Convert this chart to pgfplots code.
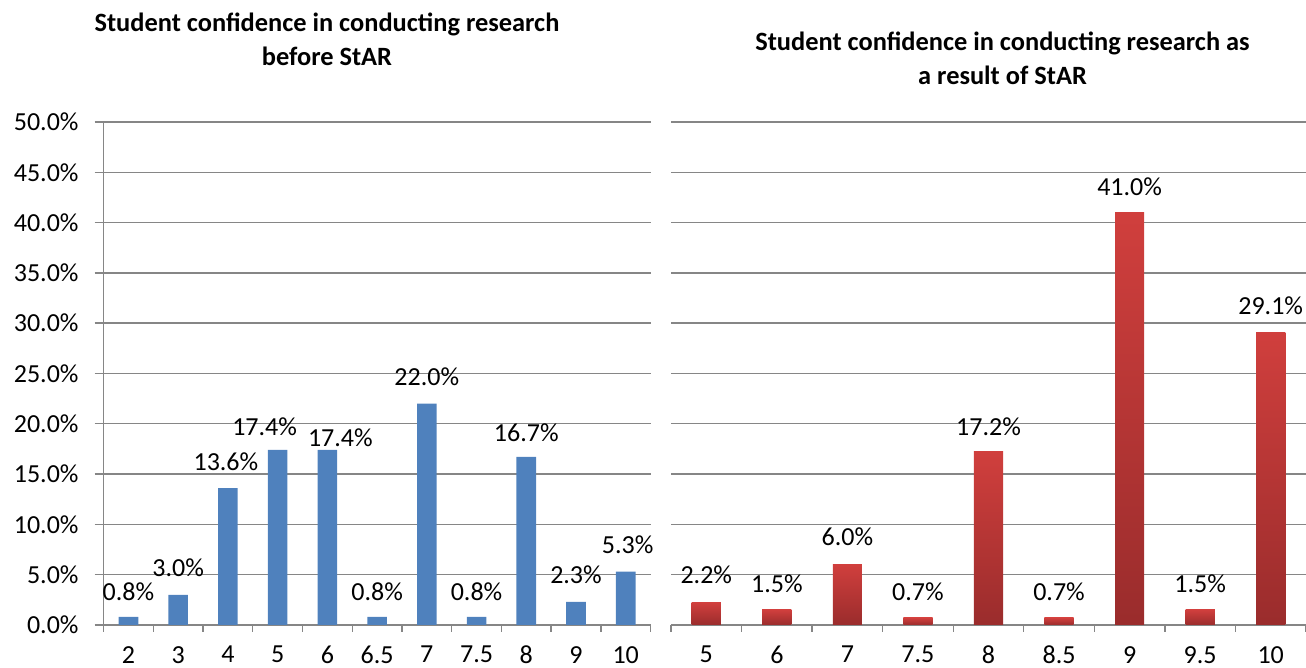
\documentclass[border=0pt]{standalone}
\usepackage{fontspec}
\setmainfont{Carlito}
\usepackage{pgfplots}
\pgfplotsset{compat=1.18}
\usepackage{pgfplotstable}
\definecolor{barblue}{HTML}{4F81BD}
\definecolor{redtop}{HTML}{D03F3D}
\definecolor{redbot}{HTML}{9A2C2C}
\definecolor{gridgray}{HTML}{868686}
\pgfplotsset{/pgf/number format/assume math mode=true}

% x = category index, y = percent, dx/dy = label offsets (pt)
\pgfplotstableread{
x y dx dy
0 0.8 0 12.5
1 3.0 0 13.5
2 13.6 -1 13
3 17.4 -6.5 11.5
4 17.4 6.5 6
5 0.8 0 12.5
6 22.0 0 13.5
7 0.8 0 12.5
8 16.7 0 12
9 2.3 0 13.5
10 5.3 1 13.5
}\before

\pgfplotstableread{
x y dx dy
0 2.2 0 14
1 1.5 0 13
2 6.0 0 14
3 0.7 0 13
4 17.2 0 12.5
5 0.7 0 13
6 41.0 0 13
7 1.5 0 13
8 29.1 0 13.5
}\after

\pgfplotsset{
  starstyle/.style={
    scale only axis, height=251.5pt,
    ymin=0, ymax=50,
    axis x line*=bottom, axis y line*=left,
    axis line style={gridgray, line width=0.7pt, -},
    ytick={0,5,...,50},
    ymajorgrids, grid style={gridgray, line width=0.7pt},
    minor x tick style={gridgray, line width=0.7pt},
    major x tick style={draw=none},
    y tick style={gridgray, line width=0.7pt},
    tick align=outside,
    major tick length=4.5pt,
    minor tick length=3.5pt,
    tick label style={font=\fontsize{13}{15}\selectfont, text=black},
    xticklabel style={inner sep=0.5pt, yshift=-5.4pt},
    clip=false,
    nodes near coords={\pgfmathprintnumber[fixed,fixed zerofill,precision=1]{\pgfplotspointmeta}\%},
    visualization depends on={\thisrow{dx} \as \dx},
    visualization depends on={\thisrow{dy} \as \dy},
    every node near coord/.append style={anchor=center, xshift=\dx pt, yshift=\dy pt,
      font=\fontsize{13}{15}\selectfont, text=black},
  }
}

\begin{document}
\begin{tikzpicture}
\useasboundingbox (0,0) rectangle (653pt,334pt);

\node[align=center, font=\fontsize{13.2}{17}\selectfont\bfseries] at (163.5pt,314.25pt)
  {Student confidence in conducting research\\before StAR};
\node[align=center, font=\fontsize{13.2}{17}\selectfont\bfseries] at (501.25pt,304.75pt)
  {Student confidence in conducting research as\\a result of StAR};

\begin{axis}[starstyle,
  at={(51.8pt,21.5pt)}, anchor=south west,
  width=273.5pt,
  xmin=-0.5, xmax=10.5,
  xtick={0,...,10}, xticklabels={2,3,4,5,6,6.5,7,7.5,8,9,10},
  minor xtick={-0.5,0.5,...,10.5},
  yticklabel={\pgfmathprintnumber[fixed,fixed zerofill,precision=1]{\tick}\%},
  yticklabel style={xshift=-4.5pt},
]
\addplot[ybar, bar width=9.8pt, fill=barblue, draw=none] table[x=x,y=y] {\before};
\end{axis}

\begin{axis}[starstyle,
  at={(335.5pt,21.5pt)}, anchor=south west,
  width=317.5pt,
  xmin=-0.5, xmax=8.5,
  xtick={0,...,8}, xticklabels={5,6,7,7.5,8,8.5,9,9.5,10},
  minor xtick={-0.5,0.5,...,8.5},
  yticklabels={},
  y axis line style={draw=none},
  y tick style={draw=none},
]
\pgfplotsinvokeforeach{0,...,8}{
  \addplot[ybar, bar width=14.6pt, top color=redtop, bottom color=redbot, draw=none,
    restrict x to domain=#1:#1] table[x=x,y=y] {\after};
}
\end{axis}
\end{tikzpicture}
\end{document}
